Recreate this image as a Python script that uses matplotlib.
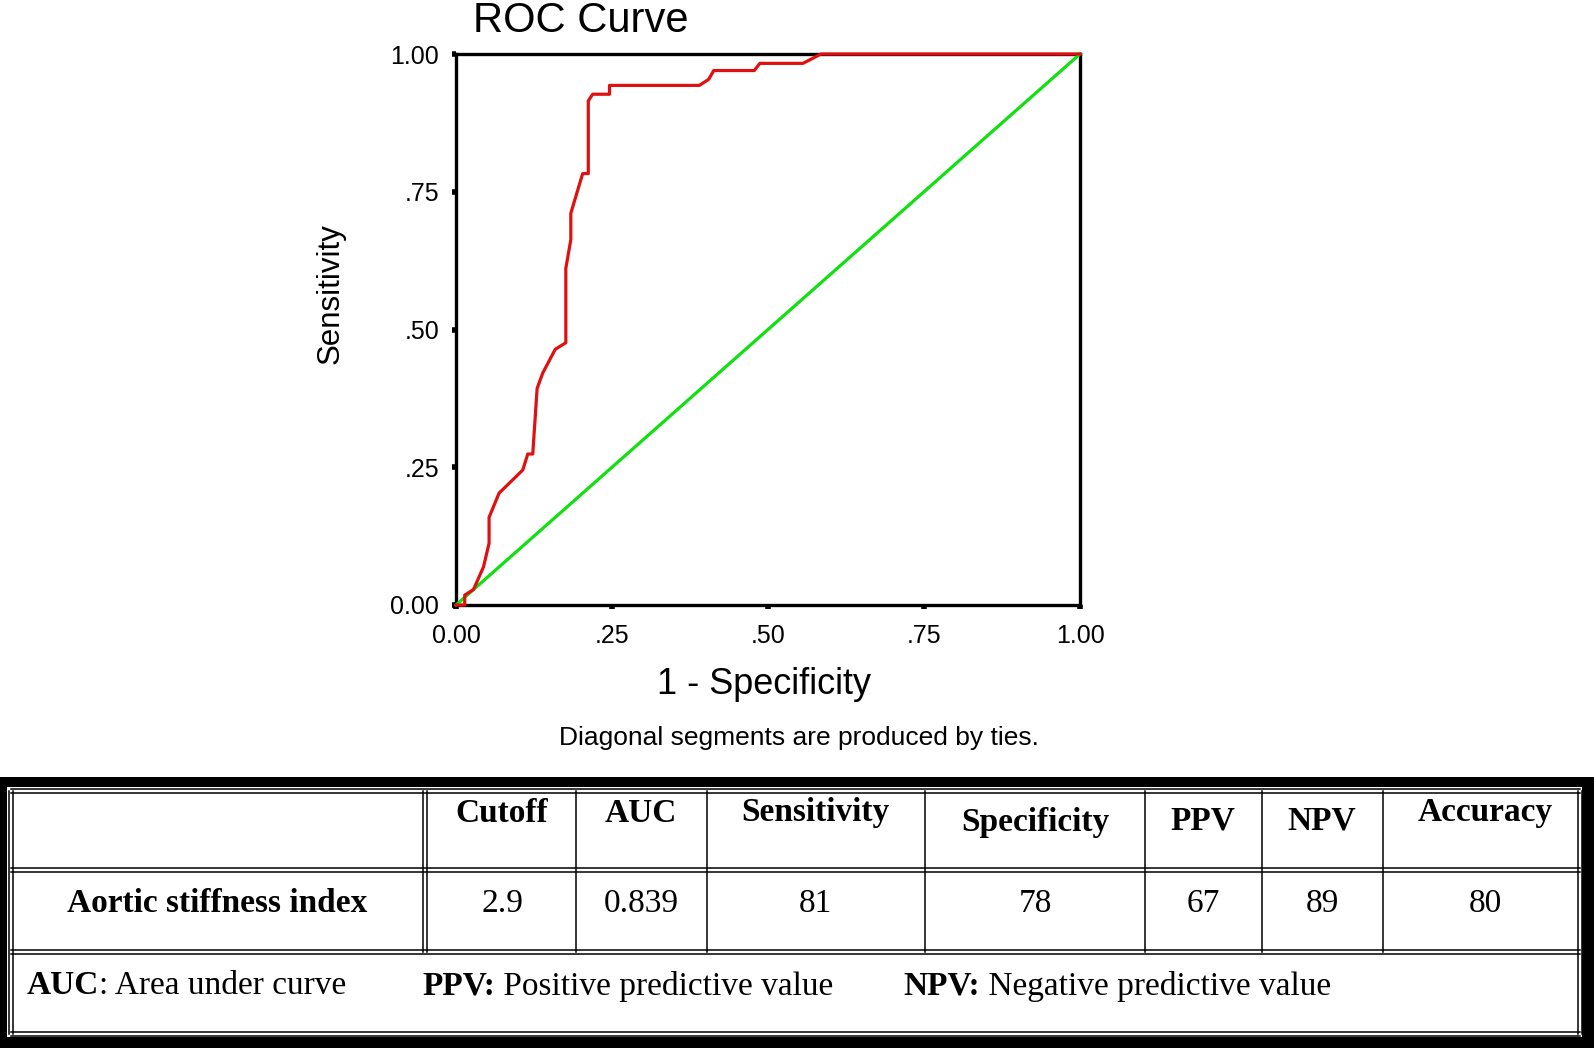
import matplotlib
matplotlib.use("Agg")
import matplotlib.pyplot as plt

# ROC curve points
fpr = [0.0, 0.014, 0.014, 0.028, 0.044, 0.053, 0.053, 0.069, 0.107, 0.115, 0.123,
       0.130, 0.139, 0.159, 0.176, 0.176, 0.176, 0.184, 0.184, 0.203, 0.212, 0.212,
       0.219, 0.246, 0.246, 0.390, 0.405, 0.413, 0.478, 0.487, 0.556, 0.585, 1.0]
tpr = [0.0, 0.0, 0.018, 0.028, 0.069, 0.112, 0.159, 0.203, 0.245, 0.274, 0.274,
       0.393, 0.421, 0.464, 0.476, 0.480, 0.611, 0.663, 0.711, 0.783, 0.783, 0.915,
       0.927, 0.927, 0.943, 0.943, 0.954, 0.970, 0.970, 0.983, 0.983, 1.0, 1.0]
ref_line = [0.0, 1.0]
ticks = [0.0, 0.25, 0.5, 0.75, 1.0]
tick_labels = ["0.00", ".25", ".50", ".75", "1.00"]

# table content
col_headers = ["Cutoff", "AUC", "Sensitivity", "Specificity", "PPV", "NPV", "Accuracy"]
row_label = "Aortic stiffness index"
row_values = ["2.9", "0.839", "81", "78", "67", "89", "80"]
footnotes = [("AUC", ": Area under curve"),
             ("PPV:", " Positive predictive value"),
             ("NPV:", " Negative predictive value")]

W, H = 1594, 1048
fig = plt.figure(figsize=(W / 100, H / 100), dpi=100)
sans = ["Liberation Sans", "DejaVu Sans"]
serif = ["Liberation Serif", "DejaVu Serif"]

# ---- ROC plot ----
x0, x1, ytop, ybot = 456, 1080, 54, 605
ax = fig.add_axes([x0 / W, (H - ybot) / H, (x1 - x0) / W, (ybot - ytop) / H])
ax.plot(ref_line, ref_line, color="#10e010", lw=2.3, zorder=3, clip_on=False)
ax.plot(fpr, tpr, color="#e01010", lw=2.3, zorder=4, clip_on=False)
ax.set_xlim(0, 1)
ax.set_ylim(0, 1)
ax.set_xticks(ticks)
ax.set_yticks(ticks)
ax.set_xticklabels(tick_labels, fontsize=18, family=sans)
ax.set_yticklabels(tick_labels, fontsize=18, family=sans)
ax.tick_params(direction="out", length=3, width=4, pad=9, color="black")
ax.tick_params(axis="x", pad=11)
for s in ax.spines.values():
    s.set_linewidth(2.4)
    s.set_color("black")

# title sits right at the top edge, as in the reference
fig.text(581 / W, (H - 32) / H, "ROC Curve", ha="center", va="baseline",
         fontsize=30, family=sans)
fig.text(331 / W, (H - 294) / H, "Sensitivity", ha="center", va="center",
         rotation=90, fontsize=22.5, family=sans)
fig.text(764 / W, (H - 684) / H, "1 - Specificity", ha="center", va="center",
         fontsize=26, family=sans)
fig.text(799 / W, (H - 738) / H, "Diagonal segments are produced by ties.",
         ha="center", va="center", fontsize=19, family=sans)

# ---- table (overlay in pixel coords) ----
tb = fig.add_axes([0, 0, 1, 1])
tb.set_xlim(0, W)
tb.set_ylim(H, 0)
tb.axis("off")

# thick black outer frame
tb.fill_between([0, W], 777, 787, color="black", lw=0)
tb.fill_between([0, W], 1037, H, color="black", lw=0)
tb.fill_betweenx([777, H], 0, 7, color="black", lw=0)
tb.fill_betweenx([777, H], 1582, W, color="black", lw=0)

def hdouble(y, xa, xb):
    tb.plot([xa, xb], [y - 2, y - 2], color="black", lw=1.1)
    tb.plot([xa, xb], [y + 2, y + 2], color="black", lw=1.1)

def vdouble(x, ya, yb):
    tb.plot([x - 2, x - 2], [ya, yb], color="black", lw=1.1)
    tb.plot([x + 2, x + 2], [ya, yb], color="black", lw=1.1)

ia, ib, it, ibm = 11, 1580, 791, 1034
hdouble(it, ia, ib)
hdouble(ibm, ia, ib)
vdouble(ia, it, ibm)
vdouble(ib, it, ibm)
hdouble(870, ia, ib)
hdouble(952, ia, ib)
vdouble(425, it, 952)
for x in [576, 707, 925, 1145, 1262, 1383]:
    tb.plot([x, x], [it, 952], color="black", lw=1.1)

fs = 24
col_x = [502, 641, 815, 1035, 1203, 1322, 1485]
head_y = [813, 813, 813, 823, 821, 821, 813]
for cx, cy, txt in zip(col_x, head_y, col_headers):
    tb.text(cx, cy, txt, ha="center", va="center", fontsize=fs,
            fontweight="bold", family=serif)
tb.text(217, 904, row_label, ha="center", va="center", fontsize=fs,
        fontweight="bold", family=serif)
for cx, txt in zip(col_x, row_values):
    tb.text(cx, 904, txt, ha="center", va="center", fontsize=fs, family=serif)

foot_x = [27, 422, 903]
for fx, (bold, rest) in zip(foot_x, footnotes):
    t = tb.text(fx, 986, bold, ha="left", va="center", fontsize=fs,
                fontweight="bold", family=serif)
    fig.canvas.draw()
    bb = t.get_window_extent()
    tb.text(bb.x1, 986, rest, ha="left", va="center", fontsize=fs, family=serif,
            transform=matplotlib.transforms.blended_transform_factory(
                matplotlib.transforms.IdentityTransform(), tb.transData))

fig.savefig("out.png", dpi=100)
